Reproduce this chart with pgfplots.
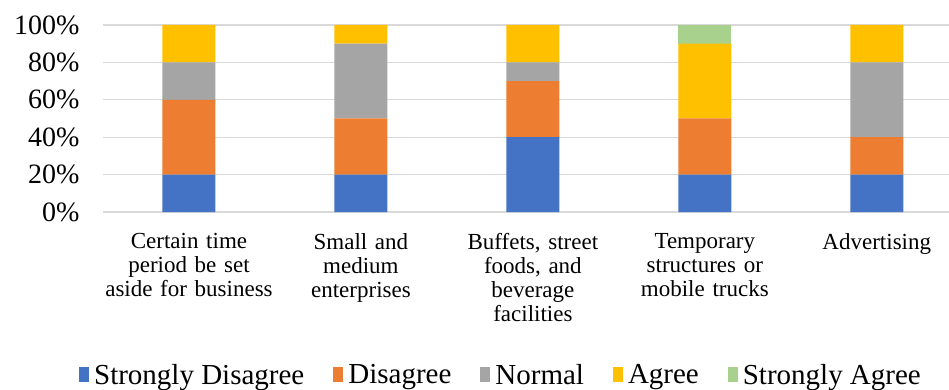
\documentclass[border=0pt]{standalone}
\usepackage{pgfplots}
\pgfplotsset{compat=1.18}
\usepackage{fontspec}
\setmainfont{Liberation Serif}
\definecolor{csd}{HTML}{4472C4}
\definecolor{cd}{HTML}{ED7D31}
\definecolor{cn}{HTML}{A5A5A5}
\definecolor{ca}{HTML}{FFC000}
\definecolor{csa}{HTML}{A9D18E}
\begin{document}
\begin{tikzpicture}
\useasboundingbox (-103pt,-178pt) rectangle (846pt,212pt);
\begin{axis}[
  at={(0,0)}, anchor=south west,
  scale only axis, width=846pt, height=187pt,
  ybar stacked, bar width=53pt,
  xmin=-0.5, xmax=4.42, ymin=0, ymax=100,
  ytick={0,20,...,100},
  yticklabel={\pgfmathprintnumber{\tick}\%},
  /pgf/number format/assume math mode=true,
  xtick={0,1,2,3,4},
  xticklabels={{Certain time\\period be set\\aside for business},{Small and\\medium\\enterprises},{Buffets, street\\foods, and\\beverage\\facilities},{Temporary\\structures or\\mobile trucks},{Advertising}},
  xticklabel style={align=center, text width=185pt, yshift=-18pt, font=\fontsize{23}{24}\selectfont},
  yticklabel style={xshift=-20pt, font=\fontsize{28}{30}\selectfont},
  axis line style={draw=none},
  ymajorgrids, grid style={color=black!15, line width=1.2pt},
  major tick length=0pt,
  legend columns=5,
  legend style={draw=none, at={(0.5,0)}, anchor=center, yshift=-163pt, xshift=-25pt,
    font=\fontsize{29}{31}\selectfont, inner sep=0pt,
    /tikz/every even column/.append style={column sep=27pt},
    /tikz/every odd column/.append style={column sep=3pt}},
  legend image code/.code={\fill[#1] (0pt,-7pt) rectangle (10pt,8pt);},
]
\addplot[fill=csd, draw=none] coordinates {(0,20) (1,20) (2,40) (3,20) (4,20)};
\addplot[fill=cd, draw=none] coordinates {(0,40) (1,30) (2,30) (3,30) (4,20)};
\addplot[fill=cn, draw=none] coordinates {(0,20) (1,40) (2,10) (3,0) (4,40)};
\addplot[fill=ca, draw=none] coordinates {(0,20) (1,10) (2,20) (3,40) (4,20)};
\addplot[fill=csa, draw=none] coordinates {(0,0) (1,0) (2,0) (3,10) (4,0)};
\legend{Strongly Disagree, Disagree, Normal, Agree, Strongly Agree}
\end{axis}
\end{tikzpicture}
\end{document}
